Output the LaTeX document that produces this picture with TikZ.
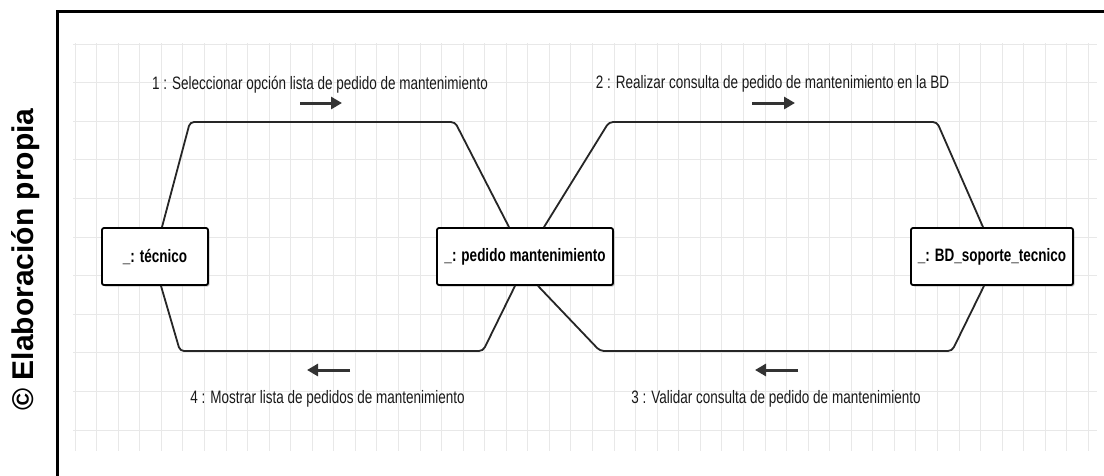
\documentclass[tikz,border=0pt]{standalone}
\usepackage{fontspec}
\setmainfont{Liberation Sans}
\newfontfamily\nfont[FakeStretch=0.75]{Liberation Sans}
\usetikzlibrary{arrows.meta,shadows}
\begin{document}
\begin{tikzpicture}[x=1pt,y=-1pt,
  gridline/.style={draw=black!9,line width=0.8pt},
  obj/.style={draw=black,line width=1.8pt,fill=white,rounded corners=2pt,
    minimum height=57pt,inner sep=0pt,
    font=\nfont\bfseries\fontsize{18}{21}\selectfont,
    drop shadow={shadow xshift=1.5pt,shadow yshift=-1.5pt,fill=black!45}},
  link/.style={line width=1.8pt,draw=black!85,rounded corners=4pt},
  msg/.style={line width=3pt,draw=black!80,-{Triangle[length=11pt,width=12pt]}},
  lbl/.style={anchor=base,inner sep=0pt,text=black!90,
    font=\nfont\fontsize{18}{21}\selectfont}
]
\useasboundingbox (0,0) rectangle (1104,475);
\clip (0,0) rectangle (1104,475);
\fill[white] (0,0) rectangle (1104,475);

% frame
\draw[line width=3pt,black] (57,11) rectangle (1120,490);

% grid
\foreach \k in {0,...,47} \draw[gridline] ({75+21.56*\k},43) -- ({75+21.56*\k},451);
\foreach \k in {0,...,10} \draw[gridline] (73,{44+38.6*\k}) -- (1097,{44+38.6*\k});

% credit
\node[rotate=90,anchor=base,inner sep=0pt,font=\bfseries\fontsize{30}{35}\selectfont] (credit) at (33,259.5) {© Elaboración propia};

% objects
\node[obj,minimum width=106pt] (tec) at (155,256.5) {\_: técnico};
\node[obj,minimum width=176pt] (ped) at (525,256.5) {\_: pedido mantenimiento};
\node[obj,minimum width=162pt] (bd) at (992,256.5) {\_: BD\_soporte\_tecnico};

% links
\draw[link] ([xshift=7pt]tec.north) -- (190,122) -- (455,122) -- ([xshift=-16pt]ped.north);
\draw[link] ([xshift=6pt]tec.south) -- (180,351) -- (483,351) -- ([xshift=-10pt]ped.south);
\draw[link] ([xshift=19pt]ped.north) -- (609,122) -- (937,122) -- ([xshift=-9pt]bd.north);
\draw[link] ([xshift=13pt]ped.south) -- (600,351) -- (952,351) -- ([xshift=-8pt]bd.south);

% messages
\coordinate (m1s) at (300,103); \coordinate (m1e) at (342,103);
\coordinate (m2s) at (752,103); \coordinate (m2e) at (795,103);
\coordinate (m4s) at (350,370); \coordinate (m4e) at (307,370);
\coordinate (m3s) at (798,370); \coordinate (m3e) at (755,370);
\draw[msg] (m1s) -- (m1e);
\draw[msg] (m2s) -- (m2e);
\draw[msg] (m4s) -- (m4e);
\draw[msg] (m3s) -- (m3e);

\node[lbl] (l1) at (320,89) {1 : Seleccionar opción lista de pedido de mantenimiento};
\node[lbl] (l2) at (772.5,88) {2 : Realizar consulta de pedido de mantenimiento en la BD};
\node[lbl] (l4) at (327.5,403) {4 : Mostrar lista de pedidos de mantenimiento};
\node[lbl] (l3) at (776,403) {3 : Validar consulta de pedido de mantenimiento};
\end{tikzpicture}
\end{document}
